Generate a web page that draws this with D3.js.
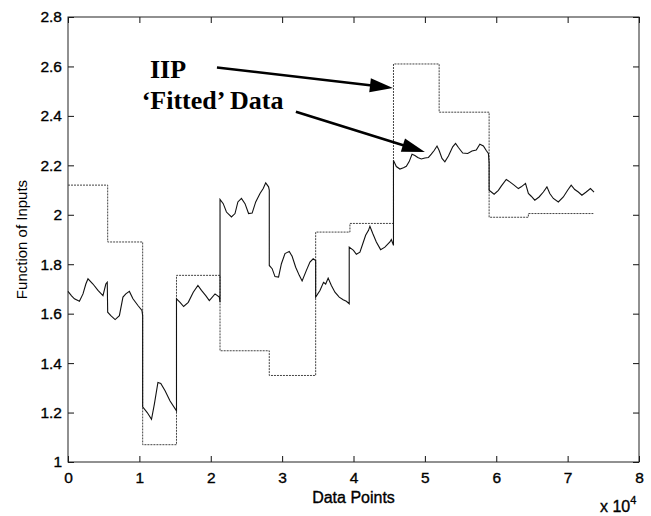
<!DOCTYPE html>
<html><head><meta charset="utf-8">
<title>IIP and fitted data</title>
<script src="https://cdn.jsdelivr.net/npm/d3@7"></script>
<style>
body { margin: 0; background: #fff; }
svg { display: block; font-family: "Liberation Sans", Arial, sans-serif; }
.heavy { stroke: #000; stroke-width: 0.35px; }
</style>
</head>
<body>
<div id="chart"></div>
<script>
// x values are in units of 10^4 data points
const xTicks = [0, 1, 2, 3, 4, 5, 6, 7, 8];
const yTicks = [1, 1.2, 1.4, 1.6, 1.8, 2, 2.2, 2.4, 2.6, 2.8];

// IIP step levels: start of each step and its level, plus the last x
const stepStart = [0, 0.556, 1.046, 1.52, 2.13, 2.82, 3.47, 3.95, 4.56, 5.20, 5.90, 6.45];
const stepLevel = [2.12, 1.89, 1.07, 1.755, 1.45, 1.35, 1.93, 1.965, 2.61, 2.415, 1.99, 2.005];
const stepEnd = 7.36;

// 'Fitted' data
const fitted = [
  [0.00,1.69],[0.05,1.672],[0.09,1.66],[0.16,1.65],[0.21,1.68],[0.25,1.72],[0.28,1.741],[0.35,1.72],[0.42,1.694],[0.49,1.673],[0.53,1.72],[0.55,1.727],
  [0.556,1.606],[0.60,1.592],[0.66,1.576],[0.72,1.592],[0.77,1.667],[0.81,1.68],[0.86,1.69],[0.91,1.66],[0.98,1.633],[1.036,1.613],[1.046,1.592],
  [1.046,1.223],[1.11,1.20],[1.17,1.173],[1.21,1.234],[1.26,1.322],[1.30,1.318],[1.36,1.288],[1.43,1.247],[1.52,1.207],
  [1.52,1.66],[1.57,1.646],[1.62,1.629],[1.685,1.646],[1.755,1.687],[1.82,1.714],[1.87,1.694],[1.93,1.673],[1.98,1.653],[2.06,1.68],[2.12,1.667],[2.13,1.646],
  [2.13,2.062],[2.175,2.045],[2.22,2.011],[2.29,1.991],[2.34,2.005],[2.38,2.052],[2.43,2.066],[2.48,2.045],[2.53,2.005],[2.58,2.007],[2.63,2.052],[2.69,2.086],[2.735,2.106],[2.77,2.129],[2.81,2.113],[2.82,2.10],
  [2.82,1.795],[2.86,1.782],[2.90,1.75],[2.95,1.748],[2.99,1.802],[3.04,1.843],[3.10,1.852],[3.14,1.832],[3.19,1.788],[3.24,1.755],[3.28,1.732],[3.34,1.775],[3.39,1.809],[3.435,1.822],[3.47,1.815],
  [3.47,1.667],[3.53,1.694],[3.58,1.727],[3.61,1.72],[3.645,1.744],[3.69,1.714],[3.74,1.687],[3.80,1.667],[3.855,1.656],[3.90,1.65],[3.94,1.64],
  [3.94,1.869],[4.00,1.856],[4.04,1.84],[4.09,1.849],[4.13,1.883],[4.17,1.917],[4.21,1.937],[4.23,1.953],[4.27,1.924],[4.32,1.89],[4.38,1.859],[4.44,1.869],[4.51,1.89],[4.53,1.90],[4.56,1.876],
  [4.56,2.22],[4.60,2.195],[4.65,2.185],[4.70,2.19],[4.74,2.196],[4.78,2.215],[4.82,2.245],[4.86,2.24],[4.90,2.232],[4.95,2.226],[5.00,2.23],[5.05,2.232],[5.09,2.245],[5.13,2.26],[5.17,2.278],
  [5.20,2.26],[5.24,2.228],[5.28,2.214],[5.33,2.238],[5.39,2.275],[5.43,2.289],[5.47,2.272],[5.53,2.25],[5.60,2.248],[5.66,2.258],[5.72,2.262],[5.77,2.285],[5.82,2.278],[5.86,2.26],[5.89,2.248],[5.90,2.21],
  [5.90,2.099],[5.97,2.083],[6.03,2.099],[6.07,2.116],[6.14,2.143],[6.19,2.133],[6.25,2.12],[6.31,2.106],[6.35,2.113],[6.41,2.127],[6.45,2.086],[6.49,2.075],[6.54,2.059],[6.60,2.072],[6.66,2.092],[6.71,2.113],[6.75,2.086],[6.80,2.066],[6.87,2.052],[6.94,2.072],[7.00,2.099],[7.05,2.12],[7.10,2.102],[7.15,2.092],[7.20,2.079],[7.26,2.092],[7.32,2.106],[7.37,2.092]
];

// annotations (data units): label position, arrow start, arrow tip
const labels = ["IIP", "\u2018Fitted\u2019 Data"];
const labelAt = [[1.148, 2.552], [1.032, 2.427]];
const arrowFrom = [[2.087, 2.596], [3.193, 2.417]];
const arrowTo = [[4.552, 2.513], [5.0, 2.254]];

const W = 651, H = 516;
const margin = { top: 17, right: 12, bottom: 54, left: 68 };
const width = W - margin.left - margin.right;
const height = H - margin.top - margin.bottom;

const svg = d3.select("#chart").append("svg")
  .attr("width", W).attr("height", H);
const g = svg.append("g")
  .attr("transform", `translate(${margin.left},${margin.top})`);

const x = d3.scaleLinear().domain([0, 8]).range([0, width]);
const y = d3.scaleLinear().domain([1, 2.8]).range([height, 0]);

// axes with ticks pointing inward
const styleAxis = sel => {
  sel.select(".domain").remove();
  sel.selectAll("line").attr("stroke", "#111");
  sel.selectAll("text").attr("fill", "#000").attr("class", "heavy").style("font-size", "15.5px");
};
g.append("g").attr("transform", `translate(0,${height})`)
  .call(d3.axisBottom(x).tickValues(xTicks).tickFormat(d3.format("d")).tickSizeInner(-6).tickSizeOuter(0).tickPadding(10))
  .call(styleAxis);
g.append("g")
  .call(d3.axisTop(x).tickValues(xTicks).tickFormat("").tickSizeInner(-6).tickSizeOuter(0))
  .call(styleAxis);
g.append("g")
  .call(d3.axisLeft(y).tickValues(yTicks).tickFormat(d3.format("~g")).tickSizeInner(-6).tickSizeOuter(0).tickPadding(6))
  .call(styleAxis);
g.append("g").attr("transform", `translate(${width},0)`)
  .call(d3.axisRight(y).tickValues(yTicks).tickFormat("").tickSizeInner(-6).tickSizeOuter(0))
  .call(styleAxis);

g.append("rect")
  .attr("width", width).attr("height", height)
  .attr("fill", "none").attr("stroke", "#222").attr("stroke-width", 1);

// IIP step line
const steps = stepStart.map((s, i) => [s, stepLevel[i]]);
steps.push([stepEnd, stepLevel[stepLevel.length - 1]]);
g.append("path")
  .datum(steps)
  .attr("fill", "none")
  .attr("stroke", "#444")
  .attr("stroke-width", 1)
  .attr("stroke-dasharray", "2,1")
  .attr("d", d3.line().x(d => x(d[0])).y(d => y(d[1])).curve(d3.curveStepAfter));

// fitted line
g.append("path")
  .datum(fitted)
  .attr("fill", "none")
  .attr("stroke", "#111")
  .attr("stroke-width", 1.1)
  .attr("d", d3.line().x(d => x(d[0])).y(d => y(d[1])));

// arrows
arrowFrom.forEach((f, i) => {
  const x0 = x(f[0]), y0 = y(f[1]);
  const x1 = x(arrowTo[i][0]), y1 = y(arrowTo[i][1]);
  const len = Math.hypot(x1 - x0, y1 - y0);
  const ux = (x1 - x0) / len, uy = (y1 - y0) / len;
  const hl = 23, hw = 7;
  const bx = x1 - ux * hl, by = y1 - uy * hl;
  g.append("line")
    .attr("x1", x0).attr("y1", y0).attr("x2", bx + ux * 2).attr("y2", by + uy * 2)
    .attr("stroke", "#000").attr("stroke-width", 2.6);
  g.append("path")
    .attr("d", `M${x1},${y1}L${bx - uy * hw},${by + ux * hw}L${bx + uy * hw},${by - ux * hw}Z`)
    .attr("fill", "#000");
});

// annotation labels
g.selectAll(".lbl").data(labels).join("text")
  .attr("class", "lbl")
  .attr("x", (d, i) => x(labelAt[i][0]))
  .attr("y", (d, i) => y(labelAt[i][1]))
  .attr("font-family", "'Liberation Serif', 'Times New Roman', serif")
  .attr("font-weight", "bold")
  .attr("font-size", 26)
  .text(d => d);

// axis titles
svg.append("text")
  .attr("x", margin.left + width / 2).attr("y", 503)
  .attr("text-anchor", "middle").attr("class", "heavy").style("font-size", "16px")
  .text("Data Points");
svg.append("text")
  .attr("transform", `translate(27,${margin.top + height / 2}) rotate(-90)`)
  .attr("text-anchor", "middle").style("font-size", "15px")
  .text("Function of Inputs");
const expo = svg.append("text")
  .attr("x", 600).attr("y", 512).attr("class", "heavy").style("font-size", "16px");
expo.append("tspan").text("x 10");
expo.append("tspan").attr("dy", -8).style("font-size", "11px").text("4");
</script>
</body>
</html>
